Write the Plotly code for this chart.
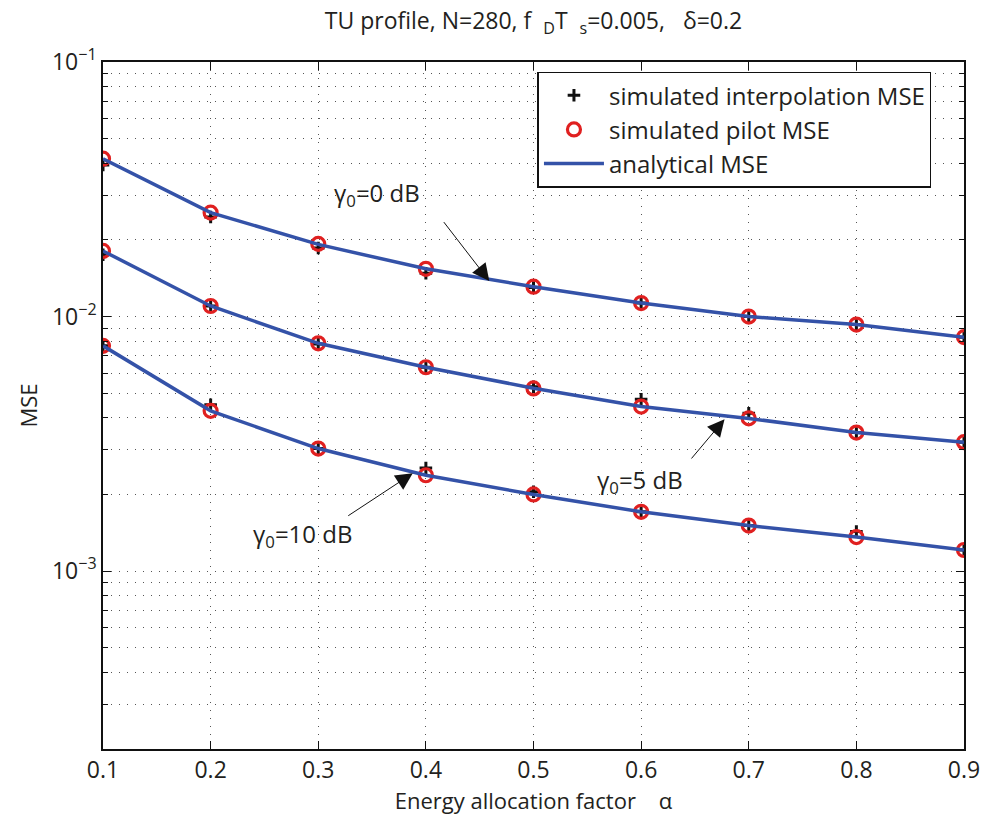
import numpy as np
import plotly.graph_objects as go

alpha = [0.1, 0.2, 0.3, 0.4, 0.5, 0.6, 0.7, 0.8, 0.9]
snr_labels = ["0", "5", "10"]

# analytical MSE (blue line)
ana_0 = [0.0417, 0.0256, 0.0192, 0.0154, 0.0131, 0.0113, 0.0100, 0.0093, 0.0083]
ana_5 = [0.0181, 0.0110, 0.00785, 0.00632, 0.00523, 0.00443, 0.00398, 0.00350, 0.00321]
ana_10 = [0.00767, 0.00426, 0.00303, 0.00238, 0.00200, 0.00171, 0.00151, 0.00136, 0.00121]

# simulated pilot MSE (red circles)
pil_0 = [0.0417, 0.0256, 0.0193, 0.0154, 0.0131, 0.0113, 0.0100, 0.0093, 0.0083]
pil_5 = [0.0181, 0.0110, 0.00785, 0.00632, 0.00522, 0.00443, 0.00398, 0.00350, 0.00321]
pil_10 = [0.00767, 0.00426, 0.00303, 0.00238, 0.00200, 0.00171, 0.00151, 0.00136, 0.00121]

# simulated interpolation MSE (black plus)
int_0 = [0.0394, 0.0246, 0.0186, 0.0148, 0.0130, 0.0113, 0.0100, 0.0093, 0.0083]
int_5 = [0.0175, 0.0110, 0.00780, 0.00632, 0.00530, 0.00473, 0.00417, 0.00350, 0.00321]
int_10 = [0.00767, 0.00450, 0.00303, 0.00254, 0.00205, 0.00171, 0.00151, 0.00143, 0.00121]

y_tickvals = [1e-3, 1e-2, 1e-1]
y_ticktext = ["10<sup>\u22123</sup>", "10<sup>\u22122</sup>", "10<sup>\u22121</sup>"]
x_tickvals = [0.1, 0.2, 0.3, 0.4, 0.5, 0.6, 0.7, 0.8, 0.9]

FONT = "Open Sans"
TXT = "#231f20"
BLUE = "#3452a8"
RED = "#e02020"

fig = go.Figure()

ints = [int_0, int_5, int_10]
pils = [pil_0, pil_5, pil_10]
anas = [ana_0, ana_5, ana_10]

for i in range(3):
    fig.add_trace(go.Scatter(
        x=alpha, y=ints[i], mode="markers", name="simulated interpolation MSE",
        marker=dict(symbol="cross-thin", size=9, color="#111", line=dict(color="#111", width=3)),
        showlegend=(i == 0), legendrank=1, legendgroup="int"))
for i in range(3):
    fig.add_trace(go.Scatter(
        x=alpha, y=pils[i], mode="markers", name="simulated pilot MSE",
        marker=dict(symbol="circle-open", size=13, color=RED, line=dict(color=RED, width=3.2)),
        showlegend=(i == 0), legendrank=2, legendgroup="pil"))
for i in range(3):
    fig.add_trace(go.Scatter(
        x=alpha, y=anas[i], mode="lines", name="analytical MSE",
        line=dict(color=BLUE, width=3.5),
        showlegend=(i == 0), legendrank=3, legendgroup="ana"))

# minor grid values
minor_vals = []
for e in [-4, -3, -2]:
    for m in range(2, 10):
        v = m * 10.0 ** e
        if v >= 2e-4 - 1e-12:
            minor_vals.append(v)

grid_dash = "1px,7px"

# annotations: text labels
labels = [
    dict(x=0.3547, y=-1.520, text="\u03b3<sub>0</sub>=0 dB"),
    dict(x=0.5993, y=-2.645, text="\u03b3<sub>0</sub>=5 dB"),
    dict(x=0.2857, y=-2.860, text="\u03b3<sub>0</sub>=10 dB"),
]
for lb in labels:
    fig.add_annotation(x=lb["x"], y=lb["y"], xref="x", yref="y", text=lb["text"],
                       showarrow=False, font=dict(family=FONT, size=24, color=TXT),
                       xanchor="center", yanchor="middle")

arrows = [
    dict(x=0.4589, y=-1.860, ax=-46.6, ay=-60.3),
    dict(x=0.6775, y=-2.4036, ax=-34.3, ay=40.7),
    dict(x=0.3878, y=-2.6159, ax=-66, ay=43.4),
]
for ar in arrows:
    fig.add_annotation(x=ar["x"], y=ar["y"], xref="x", yref="y", text="",
                       showarrow=True, ax=ar["ax"], ay=ar["ay"], arrowhead=2,
                       arrowsize=3.4, arrowwidth=1, arrowcolor="#111", standoff=0)

fig.update_layout(
    width=992, height=818,
    margin=dict(l=103, r=19, t=62, b=69),
    paper_bgcolor="white", plot_bgcolor="white",
    font=dict(family=FONT, size=22, color=TXT),
    title=dict(text="TU profile, N=280, f  <sub>D</sub>T  <sub>s</sub>=0.005,   \u03b4=0.2",
               x=0.5, xref="paper", xanchor="center", y=0.974, yanchor="middle",
               font=dict(family=FONT, size=23, color=TXT)),
    legend=dict(x=0.5046, y=0.986, xanchor="left", yanchor="top",
                bgcolor="white", bordercolor="#111", borderwidth=1.5,
                font=dict(family=FONT, size=24, color=TXT),
                itemwidth=60, tracegroupgap=0),
    showlegend=True,
)

fig.update_xaxes(
    range=[0.1, 0.9], tickvals=x_tickvals, ticktext=[f"{v:.1f}" for v in x_tickvals],
    showline=True, linecolor="#111", linewidth=1.5, mirror="ticks",
    ticks="inside", ticklen=8, tickcolor="#111", tickwidth=1,
    showgrid=True, gridcolor="#555", gridwidth=1, griddash=grid_dash,
    zeroline=False,
    tickfont=dict(family=FONT, size=23, color=TXT),
    title=dict(text="Energy allocation factor    \u03b1", font=dict(family=FONT, size=22, color=TXT), standoff=4),
)
fig.update_yaxes(
    type="log", range=[np.log10(2e-4), -1],
    tickvals=y_tickvals, ticktext=y_ticktext,
    showline=True, linecolor="#111", linewidth=1.5, mirror="ticks",
    ticks="inside", ticklen=8, tickcolor="#111", tickwidth=1,
    showgrid=True, gridcolor="#555", gridwidth=1, griddash=grid_dash,
    zeroline=False,
    minor=dict(tickvals=minor_vals, ticks="inside", ticklen=5, tickcolor="#111",
               showgrid=True, gridcolor="#555", gridwidth=1, griddash=grid_dash),
    tickfont=dict(family=FONT, size=23, color=TXT),
    title=dict(text="MSE", font=dict(family=FONT, size=22, color=TXT), standoff=8),
)

fig.write_html("out.html")
